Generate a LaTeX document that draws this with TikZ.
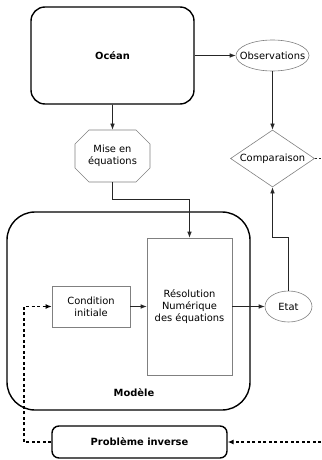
\documentclass[tikz,border=0pt]{standalone}
\usepackage{fontspec}
\setmainfont{DejaVu Sans}
\usetikzlibrary{arrows.meta,shapes.geometric,shapes.misc}
\begin{document}
\begin{tikzpicture}[x=1pt,y=-1pt, font=\fontsize{9.9}{11.8}\selectfont,
  thickbox/.style={draw=black, line width=1.4pt, rounded corners=14pt, align=center, font=\fontsize{9.9}{11.8}\selectfont\bfseries},
  thinbox/.style={draw=gray, line width=0.6pt, align=center, inner sep=0pt},
  conn/.style={draw=black!85, line width=0.6pt, -{Latex[length=6pt,width=4.5pt]}},
  dconn/.style={draw=black, line width=1.2pt, dash pattern=on 3pt off 2.5pt}
]
\useasboundingbox (0,0) rectangle (321,460);
% nodes
\node[thickbox, minimum width=163pt, minimum height=97pt] (ocean) at (112.5,55.5) {Océan};
\node[thinbox, ellipse, minimum width=73pt, minimum height=31pt, label=center:Observations] (obs) at (272.5,55.5) {};
\node[thinbox, chamfered rectangle, chamfered rectangle xsep=7pt, chamfered rectangle ysep=7pt, minimum width=75pt, minimum height=52pt] (mise) at (112.5,156) {Mise en\\équations};
\node[thinbox, diamond, minimum width=84pt, minimum height=57pt, label=center:Comparaison] (comp) at (272.5,158.5) {};
\node[thickbox, rounded corners=28pt, minimum width=243pt, minimum height=198pt] (modele) at (128.5,311) {};
\node[font=\fontsize{9.9}{11.8}\selectfont\bfseries] (modlab) at (134,393) {Modèle};
\node[thinbox, minimum width=85pt, minimum height=137pt] (res) at (189.5,306.5) {Résolution\\Numérique\\des équations};
\node[thinbox, minimum width=78pt, minimum height=41pt] (cond) at (91,306.5) {Condition\\initiale};
\node[thinbox, ellipse, minimum width=47pt, minimum height=31pt, label=center:Etat] (etat) at (288.5,306.5) {};
\node[thickbox, rounded corners=7pt, minimum width=175pt, minimum height=32pt] (pinv) at (139.5,442) {Problème inverse};
\coordinate (rend) at (321,442);
\coordinate (lcorner) at (24,442);
\coordinate (cright) at (321,158.5);
% connectors
\draw[conn] (ocean) -- (obs);
\draw[conn] (ocean) -- (mise);
\draw[conn] (obs) -- (comp);
\draw[conn] (mise.south) -- ++(0,17) -| (res.north);
\draw[conn] (cond) -- (res);
\draw[conn] (res) -- (etat);
\draw[conn] (etat.north) -- (etat.north |- res.north) -| (comp.south);
\draw[draw=black!85, line width=0.6pt, dash pattern=on 2pt off 2pt] (comp.east) -- (cright);
\draw[dconn, -{Latex[length=6pt,width=5pt]}] (rend) -- (pinv.east);
\draw[dconn, -{Latex[length=6pt,width=5pt]}] (pinv.west) -- (lcorner) |- (cond.west);
\end{tikzpicture}
\end{document}
